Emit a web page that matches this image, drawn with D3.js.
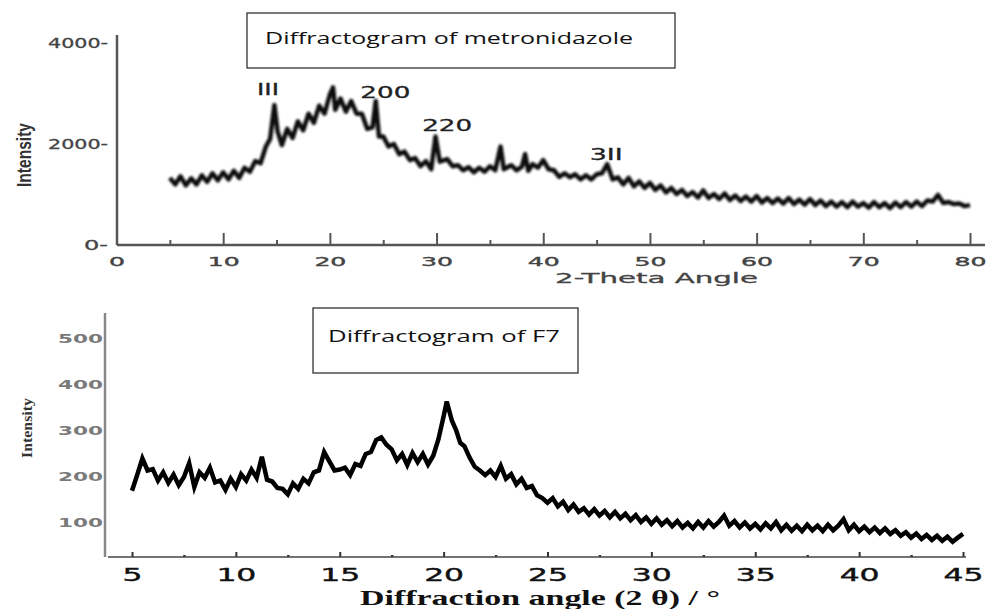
<!DOCTYPE html>
<html>
<head>
<meta charset="utf-8">
<script src="https://cdnjs.cloudflare.com/ajax/libs/d3/7.8.5/d3.min.js"></script>
<style>
    body { margin: 0; background: #fff; }
    svg { display: block; }
</style>
</head>
<body>
<div id="chart"></div>
<script>

// metronidazole pattern, [2-theta, intensity]
var metroPattern = [
    [5.0,1330],[5.5,1200],[6.0,1360],[6.5,1180],[7.0,1320],[7.5,1200],[8.0,1380],[8.5,1250],
    [9.0,1420],[9.5,1280],[10.0,1440],[10.5,1300],[11.0,1470],[11.5,1330],[12.0,1530],[12.5,1450],
    [13.0,1660],[13.5,1620],[14.0,1950],[14.4,2100],[14.8,2770],[15.1,2250],[15.5,1980],[16.0,2300],
    [16.5,2120],[17.0,2450],[17.5,2270],[18.0,2600],[18.5,2420],[19.0,2760],[19.5,2600],[20.0,2980],
    [20.3,3120],[20.5,2680],[21.0,2900],[21.5,2640],[22.0,2850],[22.5,2600],[23.0,2600],[23.5,2300],
    [24.0,2330],[24.3,2850],[24.6,2150],[25.0,2150],[25.5,1950],[26.0,2000],[26.5,1800],[27.0,1850],
    [27.5,1680],[28.0,1720],[28.5,1560],[29.0,1660],[29.5,1500],[29.9,2150],[30.3,1650],[31.0,1700],
    [31.5,1560],[32.0,1580],[32.5,1480],[33.0,1540],[33.5,1440],[34.0,1530],[34.5,1450],[35.0,1560],
    [35.5,1480],[36.0,1950],[36.3,1500],[37.0,1580],[37.5,1480],[38.0,1550],[38.3,1800],[38.6,1470],
    [39.0,1600],[39.5,1530],[40.0,1680],[40.5,1500],[41.0,1480],[41.5,1350],[42.0,1420],[42.5,1340],
    [43.0,1400],[43.5,1300],[44.0,1380],[44.5,1300],[45.0,1400],[45.5,1420],[46.0,1600],[46.5,1300],
    [47.0,1340],[47.5,1200],[48.0,1330],[48.5,1160],[49.0,1260],[49.5,1130],[50.0,1230],[50.5,1090],
    [51.0,1180],[51.5,1040],[52.0,1130],[52.5,1010],[53.0,1090],[53.5,970],[54.0,1050],[54.5,940],
    [55.0,1080],[55.5,930],[56.0,1010],[56.5,910],[57.0,1020],[57.5,890],[58.0,980],[58.5,870],
    [59.0,960],[59.5,860],[60.0,970],[60.5,840],[61.0,930],[61.5,830],[62.0,920],[62.5,820],
    [63.0,930],[63.5,810],[64.0,900],[64.5,800],[65.0,910],[65.5,790],[66.0,880],[66.5,770],
    [67.0,860],[67.5,760],[68.0,850],[68.5,750],[69.0,860],[69.5,760],[70.0,830],[70.5,740],
    [71.0,850],[71.5,750],[72.0,830],[72.5,730],[73.0,840],[73.5,750],[74.0,850],[74.5,760],
    [75.0,860],[75.5,770],[76.0,880],[76.5,860],[77.0,990],[77.5,830],[78.0,850],[78.5,810],
    [79.0,820],[79.5,770],[80.0,790]
];

// F7 pattern, [2-theta, intensity]
var f7Pattern = [
    [5.0,168],[5.25,202],[5.5,238],[5.75,212],[6.0,215],[6.25,190],[6.5,208],[6.75,185],
    [7.0,203],[7.25,180],[7.5,198],[7.75,228],[8.0,176],[8.25,208],[8.5,196],[8.75,218],
    [9.0,186],[9.25,190],[9.5,170],[9.75,194],[10.0,176],[10.25,204],[10.5,190],[10.75,214],
    [11.0,196],[11.25,242],[11.5,192],[11.75,188],[12.0,174],[12.25,172],[12.5,160],[12.75,184],
    [13.0,172],[13.25,194],[13.5,184],[13.75,208],[14.0,212],[14.25,252],[14.5,232],[14.75,212],
    [15.0,214],[15.25,218],[15.5,202],[15.75,226],[16.0,222],[16.25,248],[16.5,252],[16.75,278],
    [17.0,284],[17.25,268],[17.5,258],[17.75,234],[18.0,248],[18.25,224],[18.5,250],[18.75,230],
    [19.0,248],[19.25,225],[19.5,244],[19.75,280],[20.0,330],[20.15,362],[20.4,320],[20.6,300],
    [20.8,272],[21.0,265],[21.25,240],[21.5,220],[21.75,212],[22.0,202],[22.25,212],[22.5,198],
    [22.75,222],[23.0,194],[23.25,204],[23.5,182],[23.75,194],[24.0,174],[24.25,178],[24.5,158],
    [24.75,152],[25.0,142],[25.25,152],[25.5,134],[25.75,144],[26.0,126],[26.25,138],[26.5,122],
    [26.75,130],[27.0,116],[27.25,128],[27.5,114],[27.75,124],[28.0,110],[28.25,122],[28.5,108],
    [28.75,118],[29.0,104],[29.25,115],[29.5,100],[29.75,110],[30.0,96],[30.25,108],[30.5,94],
    [30.75,104],[31.0,91],[31.25,102],[31.5,88],[31.75,98],[32.0,86],[32.25,100],[32.5,88],
    [32.75,102],[33.0,90],[33.25,100],[33.5,114],[33.75,92],[34.0,102],[34.25,88],[34.5,99],
    [34.75,86],[35.0,96],[35.25,84],[35.5,97],[35.75,86],[36.0,100],[36.25,82],[36.5,94],
    [36.75,81],[37.0,92],[37.25,80],[37.5,94],[37.75,82],[38.0,92],[38.25,80],[38.5,94],
    [38.75,82],[39.0,92],[39.25,106],[39.5,82],[39.75,94],[40.0,80],[40.25,90],[40.5,78],
    [40.75,88],[41.0,76],[41.25,86],[41.5,74],[41.75,82],[42.0,70],[42.25,78],[42.5,66],
    [42.75,75],[43.0,63],[43.25,72],[43.5,61],[43.75,70],[44.0,59],[44.25,68],[44.5,57],
    [44.75,66],[45.0,74]
];

// peak labels of the top pattern, placed at [2-theta, intensity]
var metroPeaks = [
    {label: "III", angle: 14.2, value: 2970, len: 22},
    {label: "200", angle: 25.2, value: 2910, len: 50},
    {label: "220", angle: 31.0, value: 2257, len: 50},
    {label: "3II", angle: 45.9, value: 1683, len: 33}
];

// ticks
var metroXMajor = [0, 10, 20, 30, 40, 50, 60, 70, 80];
var metroXMinor = [5, 15, 25, 35, 45, 55, 65, 75];
var metroYTicks = [0, 2000, 4000];
var f7XMajor = [5, 10, 15, 20, 25, 30, 35, 40, 45];
var f7XMinor = [7.5, 12.5, 17.5, 22.5, 27.5, 32.5, 37.5, 42.5];
var f7YTicks = [100, 200, 300, 400, 500];

var titleTop = "Diffractogram of metronidazole";
var titleBottom = "Diffractogram of F7";

var width = 990, height = 609;

var svg = d3.select("#chart").append("svg")
    .attr("width", width)
    .attr("height", height);

// soft edge for the scanned looking traces
var defs = svg.append("defs");
defs.append("filter").attr("id", "soft")
    .append("feGaussianBlur").attr("stdDeviation", 1.0);
defs.append("filter").attr("id", "softer")
    .append("feGaussianBlur").attr("stdDeviation", 0.5);

function stretch(sel, perChar) {
    sel.attr("textLength", function () { return this.textContent.length * perChar; })
        .attr("lengthAdjust", "spacingAndGlyphs");
}

// ---------- top chart ----------
var x1 = d3.scaleLinear().domain([0, 80]).range([116.5, 970]);
var y1 = d3.scaleLinear().domain([0, 4000]).range([245, 43]);

var topChart = svg.append("g");

var gx1 = topChart.append("g")
    .attr("transform", "translate(0,245)")
    .call(d3.axisBottom(x1).tickValues(metroXMajor).tickSizeInner(-12).tickSizeOuter(0).tickPadding(12));
gx1.select(".domain").remove();
gx1.selectAll("line").attr("stroke", "#555").attr("stroke-width", 2);
gx1.selectAll("text")
    .attr("font-family", "DejaVu Sans")
    .attr("font-size", 13)
    .attr("fill", "#444")
    .attr("stroke", "#444")
    .attr("stroke-width", 0.4)
    .call(stretch, 16);

var gx1m = topChart.append("g")
    .attr("transform", "translate(0,245)")
    .call(d3.axisBottom(x1).tickValues(metroXMinor).tickSizeInner(-5).tickSizeOuter(0).tickFormat(""));
gx1m.select(".domain").remove();
gx1m.selectAll("line").attr("stroke", "#555").attr("stroke-width", 2);

var gy1 = topChart.append("g")
    .attr("transform", "translate(117,0)")
    .call(d3.axisLeft(y1).tickValues(metroYTicks).tickSize(0).tickPadding(9)
        .tickFormat(function (d) { return d + "-"; }));
gy1.select(".domain").remove();
gy1.selectAll("text")
    .attr("font-family", "DejaVu Sans")
    .attr("font-size", 14)
    .attr("fill", "#444")
    .attr("stroke", "#444")
    .attr("stroke-width", 0.3)
    .call(stretch, 12);

// axis lines
topChart.append("line").attr("x1", 117).attr("x2", 985).attr("y1", 245).attr("y2", 245)
    .attr("stroke", "#555").attr("stroke-width", 2.5);
topChart.append("line").attr("x1", 117).attr("x2", 117).attr("y1", 35).attr("y2", 245)
    .attr("stroke", "#555").attr("stroke-width", 2.5);

var line1 = d3.line()
    .x(function (d) { return x1(d[0]); })
    .y(function (d) { return y1(d[1]); });

topChart.append("path")
    .datum(metroPattern)
    .attr("d", line1)
    .attr("fill", "none")
    .attr("stroke", "#111")
    .attr("stroke-width", 4.5)
    .attr("stroke-linejoin", "round")
    .attr("filter", "url(#soft)");

topChart.selectAll(".peak")
    .data(metroPeaks)
    .enter().append("text")
    .attr("class", "peak")
    .attr("x", function (d) { return x1(d.angle); })
    .attr("y", function (d) { return y1(d.value); })
    .attr("text-anchor", "middle")
    .attr("font-family", "DejaVu Sans")
    .attr("font-size", 15)
    .attr("fill", "#222")
    .attr("stroke", "#222")
    .attr("stroke-width", 0.3)
    .attr("textLength", function (d) { return d.len; })
    .attr("lengthAdjust", "spacingAndGlyphs")
    .text(function (d) { return d.label; });

topChart.append("text")
    .attr("x", 555).attr("y", 283)
    .attr("font-family", "DejaVu Sans")
    .attr("font-size", 14)
    .attr("fill", "#444")
    .attr("stroke", "#444")
    .attr("stroke-width", 0.3)
    .attr("textLength", 203)
    .attr("lengthAdjust", "spacingAndGlyphs")
    .text("2-Theta Angle");

topChart.append("text")
    .attr("transform", "translate(31,155) rotate(-90)")
    .attr("text-anchor", "middle")
    .attr("font-family", "Liberation Sans")
    .attr("font-weight", "bold")
    .attr("font-size", 20)
    .attr("fill", "#333")
    .attr("textLength", 64)
    .attr("lengthAdjust", "spacingAndGlyphs")
    .text("Intensity");

topChart.append("rect")
    .attr("x", 247).attr("y", 13).attr("width", 428).attr("height", 55)
    .attr("fill", "#fff").attr("stroke", "#222").attr("stroke-width", 1.2);
topChart.append("text")
    .attr("x", 265).attr("y", 44)
    .attr("font-family", "Open Sans")
    .attr("font-size", 17)
    .attr("fill", "#111")
    .attr("textLength", 368)
    .attr("lengthAdjust", "spacingAndGlyphs")
    .text(titleTop);

// ---------- bottom chart ----------
var x2 = d3.scaleLinear().domain([5, 45]).range([132, 963]);
var y2 = d3.scaleLinear().domain([0, 500]).range([568, 338]);

var bottomChart = svg.append("g");

var gx2 = bottomChart.append("g")
    .attr("transform", "translate(0,557)")
    .call(d3.axisBottom(x2).tickValues(f7XMajor).tickSizeInner(-5).tickSizeOuter(0).tickPadding(11));
gx2.select(".domain").remove();
gx2.selectAll("line").attr("stroke", "#333").attr("stroke-width", 2);
gx2.selectAll("text")
    .attr("font-family", "DejaVu Sans")
    .attr("font-size", 18)
    .attr("fill", "#111")
    .attr("stroke", "#111")
    .attr("stroke-width", 0.4)
    .call(stretch, 20);

var gx2m = bottomChart.append("g")
    .attr("transform", "translate(0,557)")
    .call(d3.axisBottom(x2).tickValues(f7XMinor).tickSizeInner(-2).tickSizeOuter(0).tickFormat(""));
gx2m.select(".domain").remove();
gx2m.selectAll("line").attr("stroke", "#333").attr("stroke-width", 2.5);

var gy2 = bottomChart.append("g")
    .attr("transform", "translate(105,0)")
    .call(d3.axisLeft(y2).tickValues(f7YTicks).tickSize(0).tickPadding(2));
gy2.select(".domain").remove();
gy2.selectAll("text")
    .attr("font-family", "DejaVu Sans")
    .attr("font-weight", "bold")
    .attr("font-size", 13)
    .attr("fill", "#7a7a7a")
    .call(stretch, 15);

bottomChart.append("line").attr("x1", 108).attr("x2", 966).attr("y1", 557).attr("y2", 557)
    .attr("stroke", "#444").attr("stroke-width", 1.5);
bottomChart.append("line").attr("x1", 105).attr("x2", 105).attr("y1", 313).attr("y2", 557)
    .attr("stroke", "#888").attr("stroke-width", 2.5);

var line2 = d3.line()
    .x(function (d) { return x2(d[0]); })
    .y(function (d) { return y2(d[1]); });

bottomChart.append("path")
    .datum(f7Pattern)
    .attr("d", line2)
    .attr("fill", "none")
    .attr("stroke", "#000")
    .attr("stroke-width", 4.5)
    .attr("stroke-linejoin", "miter")
    .attr("filter", "url(#softer)");

bottomChart.append("text")
    .attr("x", 360).attr("y", 605)
    .attr("font-family", "Liberation Serif")
    .attr("font-weight", "bold")
    .attr("font-size", 20)
    .attr("fill", "#111")
    .attr("textLength", 360)
    .attr("lengthAdjust", "spacingAndGlyphs")
    .text("Diffraction angle (2 \u03b8) / \u00b0");

bottomChart.append("text")
    .attr("transform", "translate(32,428) rotate(-90)")
    .attr("text-anchor", "middle")
    .attr("font-family", "Liberation Serif")
    .attr("font-weight", "bold")
    .attr("font-size", 14)
    .attr("fill", "#333")
    .attr("textLength", 60)
    .attr("lengthAdjust", "spacingAndGlyphs")
    .text("Intensity");

bottomChart.append("rect")
    .attr("x", 313).attr("y", 308).attr("width", 265).attr("height", 65)
    .attr("fill", "#fff").attr("stroke", "#222").attr("stroke-width", 1.2);
bottomChart.append("text")
    .attr("x", 328).attr("y", 342)
    .attr("font-family", "Open Sans")
    .attr("font-size", 17)
    .attr("fill", "#111")
    .attr("textLength", 232)
    .attr("lengthAdjust", "spacingAndGlyphs")
    .text(titleBottom);

</script>
</body>
</html>
